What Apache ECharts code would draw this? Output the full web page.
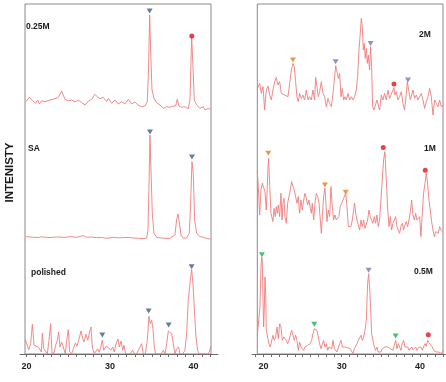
<!DOCTYPE html>
<html><head><meta charset="utf-8">
<script src="https://cdn.jsdelivr.net/npm/echarts@6/dist/echarts.min.js"></script>
<style>html,body{margin:0;padding:0;background:#fff}#c{width:446px;height:382px}</style>
</head><body><div id="c"></div>
<script>
// ---- data: [2theta, intensity (a.u.)] ----
const polished = [[19.86,14.3],[20.02,10.3],[20.26,4.3],[20.50,10.3],[20.70,29.7],[20.90,8.7],[21.14,7.7],[21.42,7],[21.62,6.3],[21.78,2],[21.90,21],[22.06,5.3],[22.26,4.3],[22.50,0.3],[22.69,13.7],[22.89,30.3],[23.05,1],[23.29,1],[23.49,8.7],[23.69,13.7],[23.85,22],[24.01,7],[24.21,12],[24.41,10.3],[24.65,0.3],[24.81,13.7],[25.01,24.3],[25.17,2],[25.41,0.3],[25.61,5.3],[25.85,11],[26.05,7.7],[26.25,13.7],[26.53,23],[26.69,17],[26.89,12],[27.13,19.7],[27.33,13.7],[27.53,21],[27.72,27],[27.88,7],[28.12,0.3],[28.32,2],[28.52,5.3],[28.72,1.7],[28.92,7.7],[29.08,13.7],[29.24,3.7],[29.52,7.7],[29.80,6.3],[30.08,3.7],[30.32,7],[30.52,2],[30.72,10.3],[30.96,15],[31.12,7],[31.32,13],[31.52,3.7],[31.68,8.7],[31.88,0.3],[32.08,0],[32.40,0],[32.71,3.7],[32.95,0],[33.19,0],[33.39,3.7],[33.59,5.3],[33.79,10.3],[33.99,0],[34.23,0],[34.47,13.7],[34.67,37.7],[34.83,30.3],[34.99,33.7],[35.15,25.3],[35.31,7],[35.47,0],[35.79,0],[36.11,0],[36.39,3.7],[36.59,0],[36.79,10.3],[36.99,23],[37.19,23.7],[37.39,20.3],[37.59,10.3],[37.78,0],[37.98,5.3],[38.22,7],[38.38,0],[38.70,0],[38.98,3.7],[39.18,20.3],[39.38,53.7],[39.62,73.7],[39.78,84.3],[39.94,70.3],[40.14,40.3],[40.30,17],[40.50,3.7],[40.70,0],[40.98,0],[41.38,0],[41.66,0],[41.90,2],[42.06,7.7]];
const sa = [[19.94,10.7],[20.40,10.4],[20.82,10],[21.40,9.8],[21.80,10.5],[22.02,10.7],[22.81,9.7],[23.40,10.2],[24.01,10.3],[24.60,9.8],[25.21,10.7],[26.01,10],[26.81,11.7],[27.21,10],[27.80,10.3],[28.40,9.7],[29.00,9.8],[29.60,9],[30.40,10],[31.00,9.5],[31.60,9.7],[32.20,9.9],[32.79,9.3],[33.40,9.0],[33.99,8.7],[34.39,9.3],[34.55,17.3],[34.67,60.7],[34.79,112.3],[34.91,77.3],[35.07,34],[35.27,14],[35.59,10],[36.39,9],[37.19,9],[37.78,12.3],[37.98,27.3],[38.14,33.3],[38.30,25.7],[38.50,12.3],[38.78,9],[39.18,9.3],[39.50,14],[39.66,44],[39.82,85.7],[39.98,74],[40.14,27.3],[40.38,14],[40.78,10.7],[41.18,10],[41.58,9],[42.06,8]];
const m025 = [[19.94,10.3],[20.34,14.7],[20.62,12],[20.82,12.7],[21.10,8.7],[21.34,12],[21.54,8],[21.82,11.3],[22.22,10.3],[22.81,12],[23.41,13.3],[23.81,14.7],[24.21,21],[24.61,12.7],[25.01,11.3],[25.41,12],[25.81,10],[26.21,12],[26.61,9.3],[27.01,7],[27.41,11],[27.80,12.7],[28.20,17.7],[28.48,15.3],[28.80,13.3],[29.20,14.7],[29.60,10.3],[29.80,13.7],[30.20,8.7],[30.60,12],[31.00,8],[31.40,10.3],[31.80,8],[32.20,12.7],[32.59,8],[32.99,10],[33.39,6.7],[33.79,5.3],[34.19,6],[34.47,10.3],[34.63,45.3],[34.75,97],[34.87,62],[35.03,22],[35.27,13.7],[35.59,9.3],[35.99,7],[36.39,3.7],[36.79,5.3],[37.19,4.7],[37.59,6],[37.86,6],[38.06,12.7],[38.26,6],[38.58,4.7],[38.98,5.3],[39.38,3.3],[39.58,12],[39.78,75.3],[39.94,45.3],[40.10,12],[40.38,7],[40.78,3.7],[41.18,5.3],[41.38,2],[41.78,3.7],[42.06,2.7]];
const m05 = [[19.21,18.7],[19.38,20.3],[19.55,47],[19.68,87],[19.77,97],[19.85,93.7],[19.94,53.7],[20.02,27],[20.11,47],[20.19,77],[20.28,60.3],[20.36,23.7],[20.53,17],[20.70,10.3],[20.87,7],[21.04,7],[21.21,18.7],[21.39,13.7],[21.56,17],[21.73,27],[21.90,15.3],[22.07,30.3],[22.24,27],[22.41,13.7],[22.58,17],[22.75,18.7],[22.92,13.7],[23.09,10.3],[23.26,13.7],[23.43,18.7],[23.60,23.7],[23.77,22],[23.94,13.7],[24.11,18.7],[24.28,13.7],[24.45,3.7],[24.62,12],[24.80,7],[24.97,8.7],[25.14,3.7],[25.31,7],[25.48,5.3],[25.65,8.7],[25.82,7],[25.99,10.3],[26.16,13.7],[26.33,20.3],[26.50,25.3],[26.67,25.3],[26.84,23.7],[27.01,17],[27.18,10.3],[27.35,5.3],[27.52,7],[27.69,13.7],[27.86,7],[28.04,10.3],[28.21,3.7],[28.38,7],[28.55,8.7],[28.72,5.3],[28.89,13.7],[29.06,5.3],[29.23,7],[29.40,2],[29.57,3.7],[29.74,10.3],[29.91,13.7],[30.08,7],[30.25,8.7],[30.42,7],[30.59,7],[30.76,6.3],[30.93,7.7],[31.10,5.3],[31.27,3.7],[31.45,0.3],[31.62,5.3],[31.79,7],[31.96,10.3],[32.13,13.7],[32.30,15.3],[32.47,18.7],[32.64,13.7],[32.81,17],[32.98,23.7],[33.15,33.7],[33.32,70.3],[33.45,80.3],[33.57,67],[33.70,47],[33.83,20.3],[34.00,13.7],[34.17,7],[34.34,3.7],[34.51,7],[34.68,2],[34.85,0.3],[35.02,2],[35.19,5.3],[35.36,5.3],[35.53,7],[35.71,5.3],[35.88,7],[36.05,7],[36.22,5.3],[36.39,7],[36.56,3.7],[36.73,8.7],[36.90,13.7],[37.07,5.3],[37.24,10.3],[37.41,7],[37.58,3.7],[37.75,10.3],[37.92,13.7],[38.09,7],[38.27,5.3],[38.44,7],[38.61,3.7],[38.78,5.3],[38.95,7],[39.12,4.3],[39.29,5.3],[39.46,7],[39.63,3.7],[39.80,6.3],[39.97,7.7],[40.14,7],[40.31,3.7],[40.48,7],[40.65,10.3],[40.82,7.7],[40.99,13.7],[41.12,15.3],[41.25,10.3],[41.42,8.7],[41.59,7],[41.76,3.7],[41.93,5.3],[42.10,2],[42.27,0.3],[42.44,2],[42.61,3.7],[42.78,0.3],[42.96,3.7]];
const m1 = [[19.21,66.7],[19.34,51.7],[19.51,23.3],[19.68,48.3],[19.85,55],[20.02,56.7],[20.19,46.7],[20.36,28.3],[20.49,51.7],[20.56,68.3],[20.66,80],[20.80,51.7],[20.96,25],[21.21,16.7],[21.34,30],[21.51,21.7],[21.64,31.7],[21.77,25],[21.90,33.3],[22.07,21.7],[22.24,45],[22.37,18.3],[22.49,35],[22.62,40],[22.75,21.7],[22.92,15],[23.09,35],[23.26,41.7],[23.43,48.3],[23.60,56.7],[23.77,51.7],[23.94,48.3],[24.11,46.7],[24.28,35],[24.45,41.7],[24.62,25],[24.80,38.3],[24.97,28.3],[25.14,38.3],[25.31,45],[25.48,40],[25.65,33.3],[25.82,38.3],[25.99,30],[26.12,25],[26.24,35],[26.42,18.3],[26.59,35],[26.76,45],[26.93,41.7],[27.10,35],[27.27,18.3],[27.40,5],[27.52,21.7],[27.69,41.7],[27.86,50],[27.99,35],[28.12,16.7],[28.29,28.3],[28.46,21.7],[28.63,51.7],[28.80,31.7],[28.97,18.3],[29.14,23.3],[29.31,18.3],[29.48,16.7],[29.65,21.7],[29.82,31.7],[30.00,35],[30.17,38.3],[30.34,40],[30.51,45],[30.68,31.7],[30.85,11.7],[31.02,12.3],[31.19,11.7],[31.36,18.3],[31.53,28.3],[31.66,35],[31.79,25],[31.96,18.3],[32.13,18.3],[32.30,8.3],[32.47,18.3],[32.64,11.7],[32.81,18.3],[32.98,10],[33.15,11.7],[33.32,18.3],[33.49,28.3],[33.66,21.7],[33.83,18.3],[34.00,15],[34.17,21.7],[34.34,15],[34.51,23.3],[34.68,11.7],[34.85,18.3],[35.02,38.3],[35.19,58.3],[35.36,78.3],[35.53,86.7],[35.71,58.3],[35.88,30],[36.05,11.7],[36.22,21.7],[36.39,8.3],[36.56,15],[36.73,18.3],[36.90,21.7],[37.07,11.7],[37.24,8.3],[37.41,5],[37.58,11.7],[37.75,15],[37.92,8.3],[38.09,13.3],[38.27,16.7],[38.44,11.7],[38.61,18.3],[38.78,26.7],[38.95,38.3],[39.12,23.3],[39.29,18.3],[39.46,25],[39.63,18.3],[39.80,16.7],[39.97,21.7],[40.14,1.7],[40.31,25],[40.48,45],[40.65,55],[40.82,65],[40.99,55],[41.16,38.3],[41.33,28.3],[41.50,16.7],[41.68,8.3],[41.85,1.7],[42.02,6.7],[42.19,8.3],[42.36,5],[42.53,11.7],[42.70,8.3],[42.87,6.7]];
const m2 = [[19.25,28.3],[19.51,33.3],[19.72,23.3],[19.94,30],[20.15,6.7],[20.36,26.7],[20.58,30.7],[20.79,21.7],[21.00,16.7],[21.21,26.7],[21.43,35],[21.64,39.3],[21.85,31.7],[22.07,35],[22.28,23.3],[22.49,22.7],[22.71,21.7],[22.92,23.3],[23.13,20],[23.35,33.3],[23.56,46.7],[23.77,53.3],[23.94,50],[24.11,35],[24.28,20],[24.45,15],[24.62,23.3],[24.84,18.3],[25.05,21.7],[25.26,16.7],[25.48,26.7],[25.69,16.7],[25.90,20],[26.12,16.7],[26.33,26.7],[26.54,16.7],[26.67,39.3],[26.84,30],[27.01,20],[27.18,25],[27.40,35],[27.61,23.3],[27.82,20],[28.04,10],[28.25,18.3],[28.46,13.3],[28.68,10],[28.89,23.3],[29.10,40],[29.23,51],[29.40,50],[29.57,38.3],[29.74,43.3],[29.91,20],[30.08,28.3],[30.25,16.7],[30.42,20],[30.59,16.7],[30.81,23.3],[31.02,16.7],[31.23,20],[31.45,16.7],[31.66,20],[31.87,26.7],[32.04,40],[32.21,66.7],[32.38,83.3],[32.51,98.3],[32.64,90],[32.77,66.7],[32.89,73.3],[33.02,58.3],[33.15,68.3],[33.28,53.3],[33.40,61.7],[33.57,46.7],[33.70,70],[33.83,50],[33.96,10],[34.13,6.7],[34.34,6.7],[34.51,16.7],[34.68,18.3],[34.85,6.7],[35.07,21.7],[35.28,16.7],[35.49,23.3],[35.71,16.7],[35.92,26.7],[36.13,18.3],[36.35,20],[36.56,26.7],[36.69,29.3],[36.81,21.7],[36.99,25],[37.20,16.7],[37.41,20],[37.63,25],[37.84,13.3],[38.05,6.7],[38.27,23.3],[38.40,35],[38.57,26.7],[38.78,16.7],[38.95,21.7],[39.12,26.7],[39.33,18.3],[39.55,21.7],[39.76,16.7],[39.97,15],[40.18,23.3],[40.40,16.7],[40.61,8.3],[40.82,15],[41.04,20],[41.25,28.3],[41.46,20],[41.68,1.7],[41.89,16.7],[42.10,13.3],[42.32,10],[42.53,16.7],[42.74,10],[42.96,11.7]];

// phase markers: [2theta, intensity, phase]
const mkPolished = [[29.08,19,'b'],[34.63,43,'b'],[37.03,29,'b'],[39.78,87.3,'b']];
const mkSA = [[34.79,115.3,'b'],[39.82,90.3,'b']];
const mk025 = [[34.75,101,'b'],[39.80,76,'r']];
const mk05 = [[19.80,99.3,'g'],[26.50,29.7,'g'],[33.45,83.7,'p'],[36.90,18,'g'],[41.08,19.3,'r']];
const mk1 = [[20.62,85,'o'],[27.86,53.3,'o'],[30.51,46,'o'],[35.32,90.7,'r'],[40.69,68,'r']];
const mk2 = [[23.77,56.7,'o'],[29.23,55,'p'],[33.70,73.3,'p'],[36.69,32.7,'r'],[38.48,36.7,'p']];

const tickLabels = [20, 30, 40];
const tickMinor = [19,20,21,22,23,24,25,26,27,28,29,30,31,32,33,34,35,36,37,38,39,40,41,42,43];

// ---- layout / style ----
const LINE = '#ef7d7d';
const PHASE_COLOR = {b:'#3e5c8e', p:'#7d73ae', o:'#e3821e', g:'#1fae55', r:'#e8121a'};
const FONT = '"Liberation Sans", Arial, sans-serif';

const panels = [
  {data: {left:25, top:4, width:186, height:350, min:19.82, max:42.10},
   axis: {left:20, top:4, width:198, height:350, min:19.22, max:42.93},
   traces: [{d:polished, off:0, mk:mkPolished}, {d:sa, off:106.7, mk:mkSA}, {d:m025, off:242, mk:mk025}]},
  {data: {left:257.3, top:4, width:185.7, height:350, min:19.21, max:42.96},
   axis: {left:252, top:4, width:194, height:350, min:18.53, max:43.34},
   traces: [{d:m05, off:0, mk:mk05}, {d:m1, off:115.7, mk:mk1}, {d:m2, off:237.3, mk:mk2}]}
];

const grid = [], xAxis = [], yAxis = [], series = [];
panels.forEach((p) => {
  const gi = grid.length;
  grid.push({left:p.data.left, top:p.data.top, width:p.data.width, height:p.data.height,
             show:true, borderColor:'#8a8a8a', borderWidth:1, backgroundColor:'transparent'});
  xAxis.push({type:'value', gridIndex:gi, min:p.data.min, max:p.data.max, show:false});
  yAxis.push({type:'value', gridIndex:gi, min:0, max:350, show:false});
  grid.push({left:p.axis.left, top:p.axis.top, width:p.axis.width, height:p.axis.height, show:false});
  xAxis.push({type:'value', gridIndex:gi+1, min:p.axis.min, max:p.axis.max,
    axisLine:{show:true, onZero:false, lineStyle:{color:'#6b6b6b', width:1}},
    axisTick:{show:true, customValues:tickMinor, length:3, lineStyle:{color:'#6b6b6b'}},
    axisLabel:{show:true, customValues:tickLabels, margin:8, fontFamily:FONT, fontWeight:'bold', fontSize:9, color:'#222'},
    splitLine:{show:false}});
  yAxis.push({type:'value', gridIndex:gi+1, min:0, max:350, show:false});
  p.traces.forEach(t => {
    series.push({type:'line', xAxisIndex:gi, yAxisIndex:gi, showSymbol:false, symbol:'none',
      lineStyle:{color:LINE, width:0.9}, silent:true, animation:false,
      data:t.d.map(([x,v]) => [x, v + t.off])});
    series.push({type:'scatter', xAxisIndex:gi, yAxisIndex:gi, animation:false, z:5,
      data:t.mk.map(([x,v,ph]) => ({value:[x, v + t.off],
        symbol: ph==='r' ? 'circle' : 'triangle',
        symbolRotate: ph==='r' ? 0 : 180,
        symbolSize: ph==='r' ? 5 : [6,5],
        itemStyle:{color:PHASE_COLOR[ph]}}))});
  });
});

const txt = (text, x, y, extra) => Object.assign({type:'text', x, y, z:10,
  style:{text, font:'bold 8.5px ' + FONT, fill:'#1a1a1a', align:'left', verticalAlign:'middle'}}, extra||{});

const chart = echarts.init(document.getElementById('c'), null, {renderer:'canvas'});
chart.setOption({
  animation:false,
  grid, xAxis, yAxis, series,
  graphic:[
    txt('0.25M', 26, 27),
    txt('SA', 28, 149),
    txt('polished', 31, 272.5),
    txt('2M', 419, 35),
    txt('1M', 424, 148.5),
    txt('0.5M', 414, 272),
    {type:'text', x:10, y:172.5, rotation:Math.PI/2, z:10,
     style:{text:'INTENISTY', font:'bold 11.5px ' + FONT, fill:'#1a1a1a', align:'center', verticalAlign:'middle'}}
  ]
});
</script></body></html>
